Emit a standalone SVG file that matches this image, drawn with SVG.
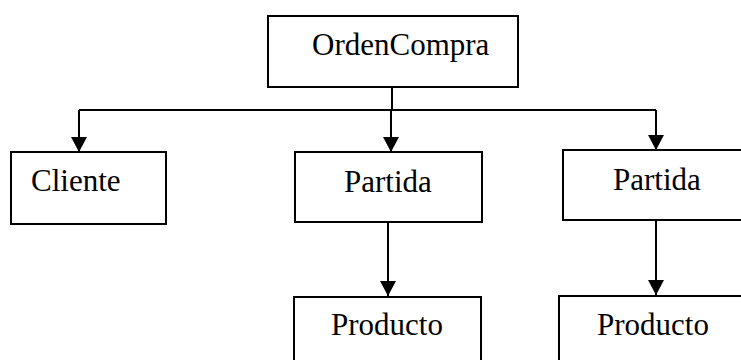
<svg xmlns="http://www.w3.org/2000/svg" width="741" height="360" viewBox="0 0 741 360">
  <style>
    .box { fill: #ffffff; stroke: #000000; stroke-width: 2; }
    .lbl { font-family: "Liberation Serif", "Times New Roman", serif; font-size: 31px; fill: #000000; }
    .wire { fill: none; stroke: #000000; stroke-width: 2; }
  </style>
  <defs>
    <marker id="arrow" viewBox="0 0 15 16" refX="15" refY="8" markerWidth="15" markerHeight="16" markerUnits="userSpaceOnUse" orient="auto">
      <path d="M0,0 L15,8 L0,16 Z" fill="#000000"/>
    </marker>
  </defs>
  <rect width="741" height="360" fill="#ffffff"/>

  <g id="connectors">
    <path class="wire" d="M392,87 V110"/>
    <path class="wire" d="M79,110 H656"/>
    <path class="wire" d="M79,110 V152" marker-end="url(#arrow)"/>
    <path class="wire" d="M391,110 V152" marker-end="url(#arrow)"/>
    <path class="wire" d="M656,110 V150" marker-end="url(#arrow)"/>
    <path class="wire" d="M388,222 V296" marker-end="url(#arrow)"/>
    <path class="wire" d="M656,220 V295" marker-end="url(#arrow)"/>
  </g>

  <g id="ordenCompra">
    <rect class="box" x="268" y="16" width="250" height="71"/>
    <text class="lbl" x="312" y="55">OrdenCompra</text>
  </g>
  <g id="cliente">
    <rect class="box" x="11" y="152" width="155" height="72"/>
    <text class="lbl" x="31" y="191">Cliente</text>
  </g>
  <g id="partida1">
    <rect class="box" x="295" y="152" width="187" height="70"/>
    <text class="lbl" x="344" y="192">Partida</text>
  </g>
  <g id="partida2">
    <rect class="box" x="563" y="150" width="190" height="70"/>
    <text class="lbl" x="613" y="190">Partida</text>
  </g>
  <g id="producto1">
    <rect class="box" x="294" y="297" width="187" height="80"/>
    <text class="lbl" x="331" y="335">Producto</text>
  </g>
  <g id="producto2">
    <rect class="box" x="559" y="296" width="194" height="80"/>
    <text class="lbl" x="597" y="335">Producto</text>
  </g>
</svg>
